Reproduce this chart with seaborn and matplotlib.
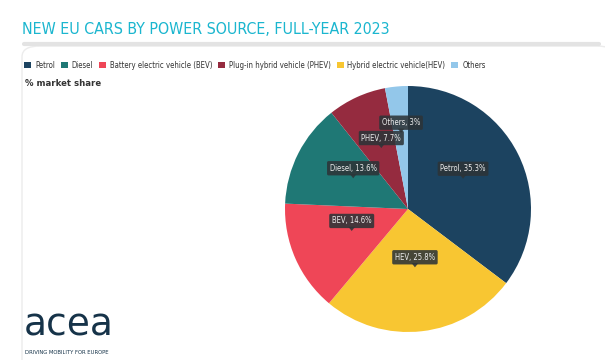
import numpy as np
import matplotlib
matplotlib.use("Agg")
import matplotlib.pyplot as plt
from matplotlib.patches import FancyBboxPatch, Patch
import seaborn as sns

# data
categories = ["Petrol", "HEV", "BEV", "Diesel", "PHEV", "Others"]
shares = [35.3, 25.8, 14.6, 13.6, 7.7, 3]
legend_names = ["Petrol", "Diesel", "Battery electric vehicle (BEV)",
                "Plug-in hybrid vehicle (PHEV)", "Hybrid electric vehicle(HEV)", "Others"]
legend_keys = ["Petrol", "Diesel", "BEV", "PHEV", "HEV", "Others"]

colours = {"Petrol": "#1c4360", "Diesel": "#1f7875", "BEV": "#ef4657",
           "PHEV": "#952b3f", "HEV": "#f8c632", "Others": "#93c7ea"}

sns.set_theme(style="white")
plt.rcParams['font.family'] = ['DejaVu Sans']
plt.rcParams['font.stretch'] = 'condensed'

fig = plt.figure(figsize=(6.05, 3.6), dpi=100)
W, H = 605, 360

# card outline
card = FancyBboxPatch((22 / W, -0.2), 0.98, (360 - 46) / H + 0.2,
                      boxstyle="round,pad=0,rounding_size=0.03",
                      transform=fig.transFigure, fc="white", ec="#ececec", lw=1.0,
                      zorder=-2)
fig.patches.append(card)
fig.add_artist(plt.Line2D([24 / W, 0.99], [1 - 44 / H, 1 - 44 / H],
                          transform=fig.transFigure, color="#e3e3e3", lw=3,
                          solid_capstyle="round", zorder=-1))

fig.text(22 / W, 1 - 29 / H, "NEW EU CARS BY POWER SOURCE, FULL-YEAR 2023",
         color="#1bb6cf", fontsize=11.4, va="center", ha="left")

handles = [Patch(facecolor=colours[k], edgecolor="none") for k in legend_keys]
fig.legend(handles, legend_names, loc="center left", bbox_to_anchor=(17 / W, 1 - 65 / H),
           ncol=6, frameon=False, fontsize=5.6, handlelength=0.9, handleheight=0.9,
           handletextpad=0.5, columnspacing=0.75, labelcolor="#333333")

fig.text(25 / W, 1 - 84 / H, "% market share", fontsize=6.8, fontweight="bold",
         color="#333333", va="center")

# pie
cx, cy, r = 408, 209, 123
ax = fig.add_axes([(cx - r) / W, 1 - (cy + r) / H, 2 * r / W, 2 * r / H])
wedges, _ = ax.pie(shares, colors=[colours[c] for c in categories], startangle=90,
                   counterclock=False, wedgeprops=dict(linewidth=0))
ax.set_xlim(-1, 1)
ax.set_ylim(-1, 1)
ax.set_aspect("equal")
ax.axis("off")

label_r = [0.5, 0.5, 0.5, 0.5, 0.52, 0.6]
for w, name, val, lr in zip(wedges, categories, shares, label_r):
    mid = np.deg2rad((w.theta1 + w.theta2) / 2)
    x, y = lr * np.cos(mid), lr * np.sin(mid)
    txt = f"{name}, {val:g}%"
    ax.annotate(txt, (x, y), xytext=(0, 6), textcoords="offset points",
                ha="center", va="bottom", fontsize=5.5, color="#eeeeee",
                bbox=dict(boxstyle="round,pad=0.35,rounding_size=0.2",
                          fc="#2d3438", ec="none", alpha=0.88))
    ax.annotate("", (x, y), xytext=(0, 4.5), textcoords="offset points",
                arrowprops=dict(arrowstyle="-|>,head_length=0.25,head_width=0.2",
                                color="#2d3438", alpha=0.88, lw=0))

# logo
fig.text(24 / W, 1 - 326 / H, "acea", fontsize=27, color="#163349", va="center",
         ha="left", fontstretch="normal")
fig.text(25 / W, 1 - 352 / H, "DRIVING MOBILITY FOR EUROPE", fontsize=4.2,
         color="#163349", va="center", ha="left")

fig.savefig("out.png", dpi=100)
